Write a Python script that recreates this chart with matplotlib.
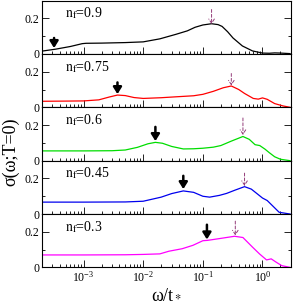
import numpy as np
import matplotlib
matplotlib.use('Agg')
import matplotlib.pyplot as plt

plt.rcParams['font.family'] = ['Liberation Serif', 'DejaVu Serif']
plt.rcParams['mathtext.fontset'] = 'stix'

# conductivity curves, one per filling n_f
labels = [r'$\mathrm{n}_\mathrm{f}$=0.9', r'$\mathrm{n}_\mathrm{f}$=0.75', r'$\mathrm{n}_\mathrm{f}$=0.6',
          r'$\mathrm{n}_\mathrm{f}$=0.45', r'$\mathrm{n}_\mathrm{f}$=0.3']
colors = ['black', 'red', '#00dd00', '#0000ee', '#ff00ff']

w1 = [2.1e-4, 3.4e-4, 6e-4, 9.5e-4, 1.1e-3, 2e-3, 5e-3, 1e-2, 0.019, 0.035, 0.055, 0.074,
      0.1, 0.14, 0.18, 0.21, 0.26, 0.32, 0.46, 0.68, 1.0, 1.3, 1.6, 2.0, 2.9]
s1 = [0.017, 0.027, 0.042, 0.058, 0.06, 0.061, 0.064, 0.068, 0.085, 0.11, 0.13, 0.15,
      0.163, 0.17, 0.165, 0.155, 0.125, 0.09, 0.045, 0.017, 0.005, 0.004, 0.006, 0.005, 0.002]

w2 = [2.1e-4, 5e-4, 1e-3, 1.8e-3, 2.7e-3, 3.7e-3, 5e-3, 7e-3, 1e-2, 0.02, 0.035, 0.07,
      0.1, 0.15, 0.22, 0.3, 0.4, 0.5, 0.7, 0.85, 1.0, 1.2, 1.6, 2.2, 2.9]
s2 = [0.034, 0.035, 0.036, 0.042, 0.058, 0.069, 0.066, 0.055, 0.05, 0.054, 0.059, 0.065,
      0.073, 0.09, 0.11, 0.12, 0.1, 0.078, 0.05, 0.046, 0.053, 0.045, 0.021, 0.008, 0.0]

w3 = [2.1e-4, 1e-3, 3e-3, 5e-3, 8e-3, 0.012, 0.016, 0.021, 0.03, 0.047, 0.07, 0.1,
      0.15, 0.2, 0.3, 0.47, 0.6, 0.75, 0.9, 1.1, 1.3, 1.6, 2.0, 2.9]
s3 = [0.055, 0.055, 0.056, 0.06, 0.075, 0.095, 0.103, 0.098, 0.08, 0.066, 0.067, 0.07,
      0.076, 0.085, 0.11, 0.136, 0.12, 0.09, 0.085, 0.065, 0.045, 0.022, 0.008, 0.0]

w4 = [2.1e-4, 1e-3, 5e-3, 0.01, 0.02, 0.03, 0.047, 0.07, 0.1, 0.13, 0.19, 0.25,
      0.35, 0.5, 0.65, 0.8, 1.0, 1.2, 1.5, 1.9, 2.9]
s4 = [0.067, 0.067, 0.068, 0.072, 0.095, 0.115, 0.13, 0.122, 0.1, 0.095, 0.105, 0.116,
      0.135, 0.154, 0.14, 0.116, 0.09, 0.076, 0.044, 0.01, 0.0]

w5 = [2.1e-4, 1e-3, 5e-3, 0.01, 0.019, 0.027, 0.045, 0.068, 0.1, 0.12, 0.19, 0.34,
      0.47, 0.68, 0.89, 1.17, 1.4, 1.7, 2.1, 2.9]
s5 = [0.07, 0.07, 0.071, 0.073, 0.076, 0.091, 0.105, 0.124, 0.15, 0.152, 0.162, 0.175,
      0.168, 0.114, 0.076, 0.042, 0.048, 0.029, 0.01, 0.0]

omegas = [w1, w2, w3, w4, w5]
sigmas = [s1, s2, s3, s4, s5]

# solid arrows (low-energy feature) and dashed arrows (high-energy peak): x, tail, head
solid_arrows = [(3.2e-4, 0.09, 0.033), (3.7e-3, 0.14, 0.074), (0.016, 0.19, 0.11),
                (0.047, 0.215, 0.14), (0.117, 0.24, 0.157)]
dashed_arrows = [(0.14, 0.25, 0.168), (0.3, 0.19, 0.123), (0.47, 0.24, 0.145),
                 (0.5, 0.23, 0.158), (0.35, 0.26, 0.18)]

fig, axes = plt.subplots(5, 1, figsize=(2.93, 3.03), dpi=100, sharex=True)
fig.subplots_adjust(left=0.143, right=0.993, bottom=0.1175, top=0.998, hspace=0)

for i, ax in enumerate(axes):
    ax.semilogx(omegas[i], sigmas[i], color=colors[i], lw=0.9)
    ax.set_xlim(2e-4, 3)
    ax.set_ylim(0, 0.3)
    ax.set_yticks([0, 0.2])
    ax.set_yticklabels(['0', '0.2'])
    ax.set_yticks([0.1], minor=True)
    ax.tick_params(axis='both', which='both', direction='in', right=True, top=False,
                   labelsize=8.5, pad=2)
    ax.tick_params(axis='both', which='major', length=5, width=0.6)
    ax.tick_params(axis='both', which='minor', length=2.5, width=0.6)
    for sp in ax.spines.values():
        sp.set_linewidth(0.8)
    ax.text(0.092, 0.76, labels[i], transform=ax.transAxes, fontsize=10, va='center')

    x, y0, y1 = solid_arrows[i]
    ax.annotate('', xy=(x, y1), xytext=(x, y0),
                arrowprops=dict(arrowstyle='-|>,head_width=0.25,head_length=0.4',
                                color='black', lw=1.8, shrinkA=0, shrinkB=0))
    x, y0, y1 = dashed_arrows[i]
    ax.annotate('', xy=(x, y1), xytext=(x, y0),
                arrowprops=dict(arrowstyle='->,head_width=0.2,head_length=0.3',
                                color='#933b78', lw=0.7, linestyle=(0, (3, 2)),
                                shrinkA=0, shrinkB=0))

axes[-1].set_xlabel('ω/t$_*$', fontsize=13, labelpad=1)
fig.text(0.035, 0.5, 'σ(ω;T=0)', rotation=90, fontsize=13,
         ha='center', va='center')

fig.savefig('out.png', dpi=100)
